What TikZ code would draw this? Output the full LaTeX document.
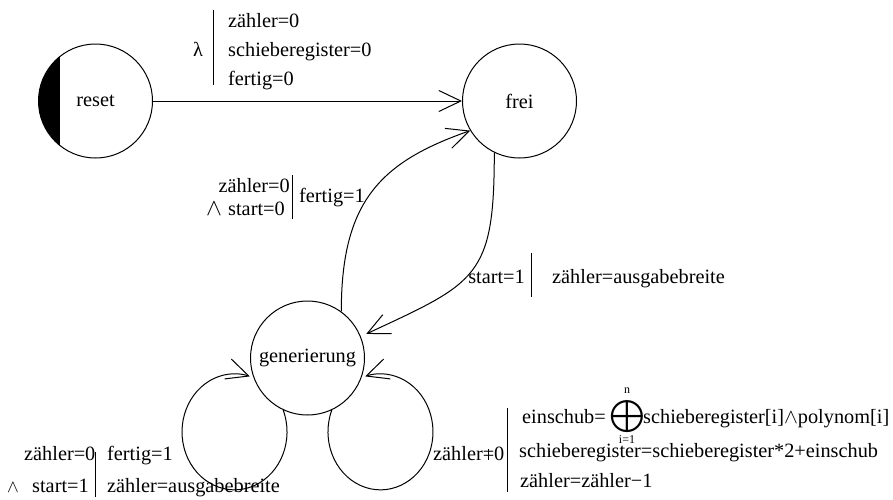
\documentclass[tikz,border=0pt]{standalone}
\usepackage{fontspec}
\usepackage{amsmath}
\usepackage{graphicx}
\setmainfont{Liberation Serif}
\usetikzlibrary{arrows.meta}
% "=" crossed by a short vertical stroke
\newcommand\crossedeq{\ooalign{=\cr\hfil\rule[0.02em]{0.05em}{0.5em}\hfil\cr}}
\begin{document}
\begin{tikzpicture}[x=1pt,y=-1pt,
  font=\fontsize{20.3}{24}\selectfont,
  state/.style={circle,draw,line width=1pt,minimum size=114pt,inner sep=0pt},
  lbl/.style={inner sep=0pt,anchor=base west},
  lble/.style={inner sep=0pt,anchor=base east},
  sym/.style={inner sep=0pt,anchor=base},
  tiny/.style={inner sep=0pt,anchor=base,font=\fontsize{12}{12}\selectfont},
  sep/.style={line width=1pt},
  conn/.style={line width=1pt,-{Straight Barb[length=22pt,width=21pt]}}]
\useasboundingbox (0,0) rectangle (893,499);

% states
\node[state] (reset) at (95.5,101) {reset};
\begin{scope}
  \clip (reset.center) circle[radius=57];
  \fill (30,30) rectangle (60,175);
\end{scope}
\node[state] (frei) at (519.5,101) {frei};
\node[state] (gen) at (307.5,358) {generierung};

% transitions
\draw[conn] (reset) -- (frei);
\draw[conn] (gen.54) .. controls +(0,-110) and +(-90,31.5) .. (frei.211);
\draw[conn,shorten >=6pt] (frei.244) .. controls +(0,125) and +(116,-54) .. (gen.22);
\draw[conn] (gen.245) arc[start angle=-22,end angle=287,x radius=52.5,y radius=58];
\draw[conn] (gen.295) arc[start angle=202,end angle=-107,x radius=52.5,y radius=58];

% reset -> frei
\node[sym] (lam) at (198,56.5) {λ};
\draw[sep] (213,10) -- (213,85);
\node[lbl] (r1) at (228,27) {zähler=0};
\node[lbl] (r2) at (228,56.5) {schieberegister=0};
\node[lbl] (r3) at (228,85) {fertig=0};

% generierung -> frei
\node[lble] (g1) at (290,192) {zähler=0};
\node[sym] (g2a) at (214,215) {\scalebox{1.15}{$\wedge$}};
\node[lbl] (g2) at (228,215) {start=0};
\draw[sep] (292,175) -- (292,219);
\node[lbl] (g3) at (299,202) {fertig=1};

% frei -> generierung
\node[lble] (f1) at (525,283) {start=1};
\draw[sep] (531,253) -- (531,297);
\node[lbl] (f2) at (552,283) {zähler=ausgabebreite};

% left self loop
\node[lbl] (l1) at (24,460) {zähler=0};
\node[sym] (l2a) at (13,492) {\scalebox{0.85}{$\wedge$}};
\node[lbl] (l2) at (32,492) {start=1};
\draw[sep] (95,452) -- (95,497);
\node[lbl] (l3) at (107,460) {fertig=1};
\node[lbl] (l4) at (107,492) {zähler=ausgabebreite};

% right self loop
\node[lbl] (k1) at (433,460) {zähler\crossedeq 0};
\draw[sep] (507,408) -- (507,492);
\node[lbl] (k2) at (522,423) {einschub=};
\node[inner sep=0pt] (opl) at (627,417) {\scalebox{1.55}{$\bigoplus$}};
\node[tiny] (kn) at (627,393) {n};
\node[tiny] (ki) at (627,443) {i=1};
\node[lbl] (k3) at (643,423) {schieberegister[i]$\wedge$polynom[i]};
\node[lbl] (k4) at (519,457) {schieberegister=schieberegister*2+einschub};
\node[lbl] (k5) at (520,487) {zähler=zähler−1};
\end{tikzpicture}
\end{document}
